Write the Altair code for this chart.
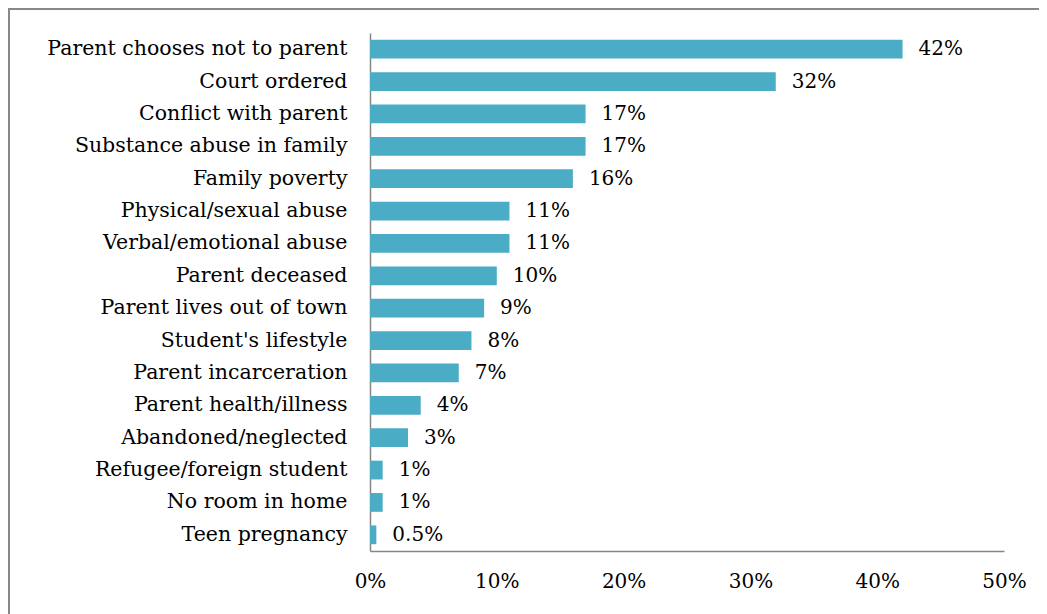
import altair as alt
import pandas as pd

categories = [
    "Parent chooses not to parent", "Court ordered", "Conflict with parent",
    "Substance abuse in family", "Family poverty", "Physical/sexual abuse",
    "Verbal/emotional abuse", "Parent deceased", "Parent lives out of town",
    "Student's lifestyle", "Parent incarceration", "Parent health/illness",
    "Abandoned/neglected", "Refugee/foreign student", "No room in home",
    "Teen pregnancy",
]
values = [42, 32, 17, 17, 16, 11, 11, 10, 9, 8, 7, 4, 3, 1, 1, 0.5]
value_labels = ["42%", "32%", "17%", "17%", "16%", "11%", "11%", "10%", "9%",
                "8%", "7%", "4%", "3%", "1%", "1%", "0.5%"]
x_ticks = [0, 10, 20, 30, 40, 50]

df = pd.DataFrame({"cat": categories, "val": values, "lab": value_labels})

FONT = "DejaVu Serif"
FS = 20.5
W, H = 634, 518

y_enc = alt.Y("cat:N", sort=categories, title=None,
              scale=alt.Scale(paddingInner=0.42, paddingOuter=0.21),
              axis=alt.Axis(labelFont=FONT, labelFontSize=FS, labelColor="#000000",
                            labelPadding=23, ticks=False, domainColor="#868686",
                            domainWidth=1.5, labelLimit=400))
x_enc = alt.X("val:Q", title=None,
              scale=alt.Scale(domain=[0, 50], nice=False),
              axis=alt.Axis(values=x_ticks, labelExpr="datum.value + '%'",
                            labelFont=FONT, labelFontSize=20, labelColor="#000000",
                            labelPadding=20, ticks=False, grid=False, labelFlush=False,
                            domainColor="#868686", domainWidth=1.5))

bars = alt.Chart(df).mark_bar(color="#4BACC6").encode(x=x_enc, y=y_enc)
texts = alt.Chart(df).mark_text(align="left", baseline="middle", dx=16,
                                font=FONT, fontSize=20, color="#000000").encode(
    x="val:Q", y=alt.Y("cat:N", sort=categories), text="lab:N")

frame_left = alt.Chart(df).mark_rule(color="#888888", strokeWidth=2, clip=False).encode(
    x=alt.value(-361), y=alt.value(-24), y2=alt.value(H + 70))
frame_top = alt.Chart(df).mark_rule(color="#888888", strokeWidth=1.5, clip=False).encode(
    x=alt.value(-362), x2=alt.value(W + 50), y=alt.value(-24))

chart = alt.layer(bars, texts, frame_left, frame_top).properties(
    width=W, height=H,
    autosize=alt.AutoSizeParams(type="none"),
    padding={"left": 362, "top": 25, "right": 35, "bottom": 63},
).configure(background="white").configure_view(stroke=None)

chart.save("out.html", embed_options={"renderer": "svg", "actions": False})
